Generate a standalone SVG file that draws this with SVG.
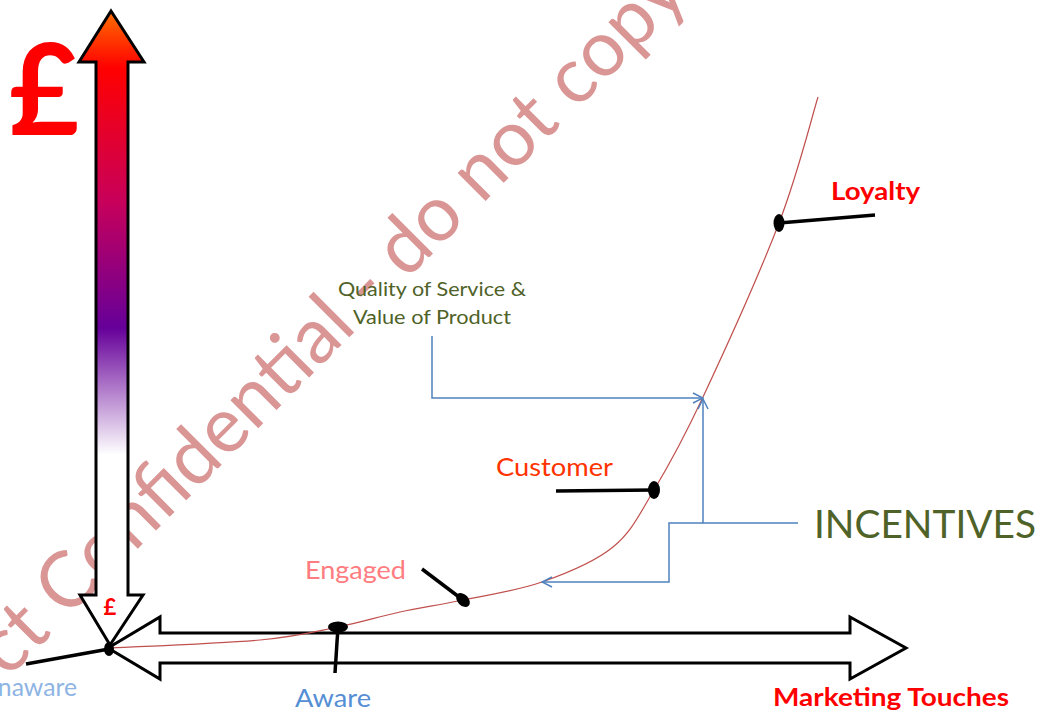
<svg xmlns="http://www.w3.org/2000/svg" width="1045" height="714" viewBox="0 0 1045 714">
  <defs>
    <linearGradient id="valueFill" gradientUnits="userSpaceOnUse" x1="0" y1="11" x2="0" y2="645">
      <stop offset="0" stop-color="#FF7000"/>
      <stop offset="0.09" stop-color="#FF0000"/>
      <stop offset="0.3" stop-color="#C8005A"/>
      <stop offset="0.5" stop-color="#660099"/>
      <stop offset="0.7" stop-color="#FFFFFF"/>
      <stop offset="1" stop-color="#FFFFFF"/>
    </linearGradient>
    <marker id="openHead" viewBox="0 0 12 12" refX="11" refY="6" markerWidth="12" markerHeight="12" markerUnits="userSpaceOnUse" orient="auto">
      <path d="M1,1 L11,6 L1,11" fill="none" stroke="#4F81BD" stroke-width="1.5"/>
    </marker>
  </defs>
  <style>
    text { font-family: Lato, "Open Sans", "Liberation Sans", sans-serif; }
    .axis { stroke: #000; stroke-width: 3; stroke-linejoin: miter; }
    .pin { stroke: #000; stroke-width: 3.5; stroke-linecap: butt; }
    .dot { fill: #000; }
    .stage { font-size: 25px; }
    .bold { font-weight: 700; }
    .link { fill: none; stroke: #4F81BD; stroke-width: 1.5; }
    .green { fill: #4F6228; }
  </style>

  <rect width="1045" height="714" fill="#FFFFFF"/>

  <!-- watermark, sits behind everything -->
  <g id="watermark">
    <text transform="translate(7.5,679) rotate(-45)" x="0" y="0" font-size="78" fill="#D99694" textLength="966" lengthAdjust="spacingAndGlyphs">ct Confidential - do not copy</text>
  </g>

  <!-- value axis: double-headed arrow with gradient -->
  <g id="value-axis">
    <path class="axis" fill="url(#valueFill)" d="M111,11 L144,62 L128,62 L128,595 L143,595 L110,645 L80,595 L96,595 L96,62 L79,62 Z"/>
    <text x="9" y="135" font-size="126" class="bold" fill="#FF0000" textLength="70" lengthAdjust="spacingAndGlyphs">£</text>
    <text x="110" y="615" font-size="22" class="bold" fill="#FF0000" text-anchor="middle">£</text>
  </g>

  <!-- marketing touches axis -->
  <g id="touches-axis">
    <path class="axis" fill="#FFFFFF" d="M108,648 L160,617 L160,633 L850,633 L850,617 L906,648 L850,679 L850,663 L160,663 L160,679 Z"/>
    <text x="773" y="706" class="stage bold" fill="#FF0000" textLength="236" lengthAdjust="spacingAndGlyphs">Marketing Touches</text>
  </g>

  <!-- connectors -->
  <g id="connectors">
    <path id="journey-curve" fill="none" stroke="#C0504D" stroke-width="1.2" d="M110,648 C135,646.7 222,643.5 260,640 C298,636.5 314.7,631.7 338,627 C361.3,622.3 379.2,616.5 400,612 C420.8,607.5 439.3,605 463,600 C486.7,595 517,590.8 542,582 C567,573.2 594.3,562.3 613,547 C631.7,531.7 639,515 654,490 C669,465 682.2,441.5 703,397 C723.8,352.5 759.8,273 779,223 C798.2,173 811.5,118 818,97"/>
    <path class="link" d="M432,336 L432,398 L703,398" marker-end="url(#openHead)"/>
    <path class="link" d="M798,523 L703,523 L703,399" marker-end="url(#openHead)"/>
    <path class="link" d="M703,523 L669,523 L669,582 L542,582" marker-end="url(#openHead)"/>
  </g>

  <g id="unaware">
    <line class="pin" x1="26" y1="664" x2="109" y2="649"/>
    <ellipse class="dot" cx="109" cy="649" rx="5" ry="7"/>
    <text x="77" y="696" class="stage" fill="#8EB4E3" text-anchor="end" textLength="97" lengthAdjust="spacingAndGlyphs">Unaware</text>
  </g>

  <g id="aware">
    <line class="pin" x1="338" y1="627" x2="335" y2="673"/>
    <ellipse class="dot" cx="338" cy="627" rx="10" ry="5.5"/>
    <text x="295" y="707" class="stage" fill="#558ED5" textLength="76" lengthAdjust="spacingAndGlyphs">Aware</text>
  </g>

  <g id="engaged">
    <line class="pin" x1="422" y1="569" x2="463" y2="600"/>
    <ellipse class="dot" cx="463" cy="600" rx="8" ry="5.5" transform="rotate(45 463 600)"/>
    <text x="305" y="579" class="stage" fill="#FF7C80" textLength="101" lengthAdjust="spacingAndGlyphs">Engaged</text>
  </g>

  <g id="customer">
    <line class="pin" x1="556" y1="491" x2="654" y2="490"/>
    <ellipse class="dot" cx="654" cy="490" rx="6" ry="9"/>
    <text x="496" y="476" class="stage" fill="#FF3300" textLength="117" lengthAdjust="spacingAndGlyphs">Customer</text>
  </g>

  <g id="loyalty">
    <line class="pin" x1="779" y1="223" x2="875" y2="215"/>
    <ellipse class="dot" cx="779" cy="223" rx="5.5" ry="9"/>
    <text x="831" y="200" class="stage bold" fill="#FF0000" textLength="89" lengthAdjust="spacingAndGlyphs">Loyalty</text>
  </g>

  <g id="quality">
    <text class="green" font-size="18.5" x="338" y="296" textLength="188" lengthAdjust="spacingAndGlyphs">Quality of Service &amp;</text>
    <text class="green" font-size="18.5" x="353" y="324" textLength="158" lengthAdjust="spacingAndGlyphs">Value of Product</text>
  </g>

  <g id="incentives">
    <text class="green" font-size="39" x="814" y="538" textLength="222" lengthAdjust="spacingAndGlyphs">INCENTIVES</text>
  </g>
</svg>
